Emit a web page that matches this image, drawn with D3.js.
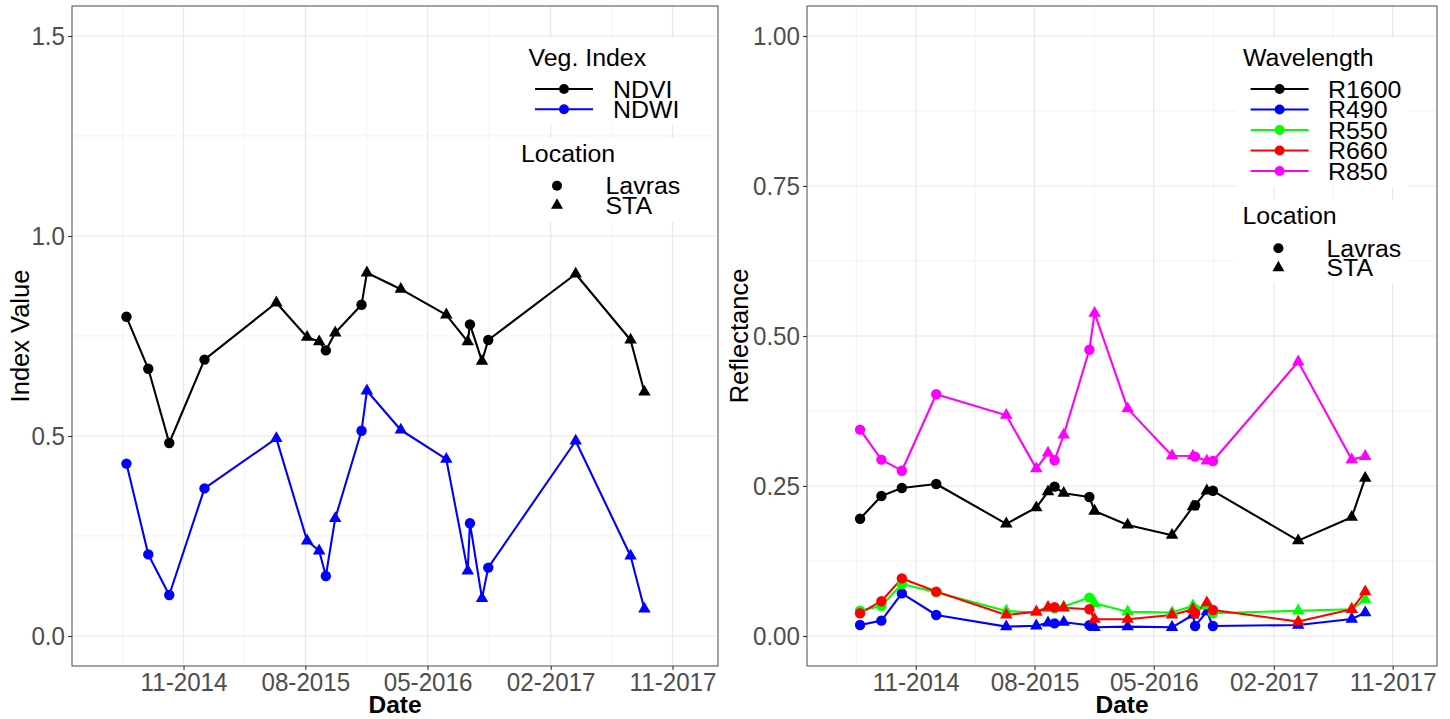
<!DOCTYPE html>
<html>
<head>
<meta charset="utf-8">
<script src="https://cdn.jsdelivr.net/npm/d3@7"></script>
<style>
  body { margin: 0; background: #fff; }
  svg { display: block; font-family: "Liberation Sans", Arial, Helvetica, sans-serif; }
</style>
</head>
<body>
<svg id="chart" width="1450" height="719"></svg>
<script>
// Sampling dates and the site of each sample
const dates = [
  "2014-06-26", "2014-08-14", "2014-09-30", "2014-12-18", "2015-05-28",
  "2015-08-05", "2015-09-01", "2015-09-16", "2015-10-07", "2015-12-05",
  "2015-12-17", "2016-03-02", "2016-06-12", "2016-07-30", "2016-08-04",
  "2016-08-31", "2016-09-14", "2017-03-29", "2017-07-30", "2017-08-30"
];
const sites = [
  "Lavras", "Lavras", "Lavras", "Lavras", "STA",
  "STA", "STA", "Lavras", "STA", "Lavras",
  "STA", "STA", "STA", "STA", "Lavras",
  "STA", "Lavras", "STA", "STA", "STA"
];

// Vegetation indices
const ndvi = [0.798, 0.668, 0.4825, 0.691, 0.833, 0.747, 0.736, 0.714, 0.758, 0.828,
              0.908, 0.867, 0.803, 0.736, 0.779, 0.687, 0.740, 0.905, 0.740, 0.610];
const ndwi = [0.431, 0.204, 0.1025, 0.369, 0.494, 0.238, 0.213, 0.150, 0.294, 0.513,
              0.613, 0.515, 0.442, 0.163, 0.282, 0.094, 0.171, 0.4875, 0.200, 0.0675];

// Band reflectances
const r1600 = [0.1955, 0.2333, 0.2467, 0.2533, 0.187, 0.214, 0.2405, 0.249, 0.238, 0.2317,
               0.2083, 0.185, 0.168, 0.2155, 0.218, 0.242, 0.242, 0.159, 0.198, 0.263];
const r490  = [0.0183, 0.0256, 0.071, 0.035, 0.0156, 0.017, 0.022, 0.021, 0.023, 0.018,
               0.0145, 0.0156, 0.0145, 0.035, 0.0167, 0.0405, 0.0167, 0.0183, 0.0283, 0.039];
const r550  = [0.042, 0.050, 0.0867, 0.0728, 0.0417, 0.039, 0.046, 0.046, 0.049, 0.064,
               0.0545, 0.0405, 0.039, 0.0505, 0.045, 0.050, 0.038, 0.042, 0.0445, 0.061];
const r660  = [0.038, 0.058, 0.096, 0.074, 0.035, 0.0405, 0.048, 0.048, 0.047, 0.0445,
               0.028, 0.028, 0.035, 0.0445, 0.038, 0.0555, 0.0433, 0.024, 0.0445, 0.074];
const r850  = [0.344, 0.294, 0.2755, 0.403, 0.368, 0.279, 0.305, 0.293, 0.335, 0.477,
               0.538, 0.379, 0.3005, 0.300, 0.299, 0.2917, 0.2917, 0.457, 0.294, 0.2995];

// Axis breaks
const dateBreaks = ["2014-02-01", "2014-11-01", "2015-08-01", "2016-05-01", "2017-02-01", "2017-11-01", "2018-08-01"];
const dateLimits = ["2014-02-24", "2018-02-11"];
const indexTicks = [0, 0.5, 1.0, 1.5];
const indexMinor = [0.25, 0.75, 1.25];
const reflTicks = [0, 0.25, 0.5, 0.75, 1.0];
const reflMinor = [0.125, 0.375, 0.625, 0.875];

const parse = d3.timeParse("%Y-%m-%d");
const fmtDate = d3.timeFormat("%m-%Y");
const svg = d3.select("#chart");

const TEXT_SX = 1.06;
const LEG_SIZE = 23.5;

function label(g, x, y, str, o = {}) {
  const t = g.append("text")
    .attr("transform", `translate(${x},${y}) scale(${o.sx || TEXT_SX},1)`)
    .attr("font-size", o.size || LEG_SIZE)
    .attr("fill", o.fill || "#000")
    .attr("text-anchor", o.anchor || "start")
    .text(str);
  if (o.weight) t.attr("font-weight", o.weight);
  return t;
}

function triPath(s) {
  const h = s * Math.sqrt(3) / 2;
  return `M0,${-2 * h / 3}L${s / 2},${h / 3}L${-s / 2},${h / 3}Z`;
}

function drawPanel(cfg) {
  const { x0, x1, y0, y1 } = cfg.box;
  const g = svg.append("g");

  const x = d3.scaleTime().domain(dateLimits.map(parse)).range([x0, x1]);
  const y = d3.scaleLinear().domain(cfg.yDomain).range([y1, y0]);

  const breaks = dateBreaks.map(parse);
  const majorX = breaks.filter(d => x(d) >= x0 && x(d) <= x1);
  const minorX = [];
  for (let i = 0; i < breaks.length - 1; i++) {
    const m = new Date((breaks[i].getTime() + breaks[i + 1].getTime()) / 2);
    if (x(m) >= x0 && x(m) <= x1) minorX.push(m);
  }

  // grid
  const grid = g.append("g");
  grid.selectAll(".hmin").data(cfg.yMinor).join("line")
    .attr("x1", x0).attr("x2", x1).attr("y1", d => y(d)).attr("y2", d => y(d))
    .attr("stroke", "#ececec").attr("stroke-width", 0.7);
  grid.selectAll(".vmin").data(minorX).join("line")
    .attr("y1", y0).attr("y2", y1).attr("x1", d => x(d)).attr("x2", d => x(d))
    .attr("stroke", "#ececec").attr("stroke-width", 0.7);
  grid.selectAll(".hmaj").data(cfg.yTicks).join("line")
    .attr("x1", x0).attr("x2", x1).attr("y1", d => y(d)).attr("y2", d => y(d))
    .attr("stroke", "#e8e8e8").attr("stroke-width", 1.2);
  grid.selectAll(".vmaj").data(majorX).join("line")
    .attr("y1", y0).attr("y2", y1).attr("x1", d => x(d)).attr("x2", d => x(d))
    .attr("stroke", "#e8e8e8").attr("stroke-width", 1.2);

  // series: lines first, then points
  const rows = cfg.series.map(s => ({
    color: s.color,
    pts: dates.map((d, i) => ({ date: parse(d), v: s.values[i], site: sites[i] }))
  }));
  const line = d3.line().x(d => x(d.date)).y(d => y(d.v));
  rows.forEach(r => {
    g.append("path").attr("d", line(r.pts)).attr("fill", "none")
      .attr("stroke", r.color).attr("stroke-width", 2.1).attr("stroke-linejoin", "round");
  });
  rows.forEach(r => {
    const pg = g.append("g").attr("fill", r.color);
    pg.selectAll("circle").data(r.pts.filter(p => p.site === "Lavras")).join("circle")
      .attr("cx", p => x(p.date)).attr("cy", p => y(p.v)).attr("r", 5.2);
    pg.selectAll("path").data(r.pts.filter(p => p.site === "STA")).join("path")
      .attr("d", triPath(12.5))
      .attr("transform", p => `translate(${x(p.date)},${y(p.v)})`);
  });

  // panel border
  g.append("rect").attr("x", x0).attr("y", y0).attr("width", x1 - x0).attr("height", y1 - y0)
    .attr("fill", "none").attr("stroke", "#5a5a5a").attr("stroke-width", 1.1);

  // axes
  const ax = g.append("g").attr("transform", `translate(${x0},0)`)
    .call(d3.axisLeft(y).tickValues(cfg.yTicks).tickFormat(cfg.yFormat).tickSize(4).tickPadding(3));
  const bx = g.append("g").attr("transform", `translate(0,${y1})`)
    .call(d3.axisBottom(x).tickValues(majorX).tickFormat(fmtDate).tickSize(4).tickPadding(3));
  [ax, bx].forEach(a => {
    a.select(".domain").remove();
    a.selectAll(".tick line").attr("stroke", "#333").attr("stroke-width", 1.1);
    a.selectAll(".tick text").attr("font-size", 26).attr("fill", "#4d4d4d")
      .attr("font-family", "Liberation Sans, Arial, sans-serif")
      .attr("transform", "scale(0.93,1)");
  });
  ax.selectAll(".tick text").attr("x", -7 / 0.93);

  // axis titles
  g.append("text").attr("transform", `translate(${cfg.yTitleX},${(y0 + y1) / 2}) rotate(-90)`)
    .attr("text-anchor", "middle").attr("font-size", 25.5).attr("fill", "#000").text(cfg.yTitle);
  label(g, (x0 + x1) / 2, 713, "Date", { anchor: "middle", weight: "bold", size: 24.5, sx: 1.0 });

  // legends
  const L = cfg.legend;
  const lg = g.append("g");
  lg.append("rect").attr("x", L.box1[0]).attr("y", L.box1[1]).attr("width", L.box1[2]).attr("height", L.box1[3]).attr("fill", "#fff");
  lg.append("rect").attr("x", L.box2[0]).attr("y", L.box2[1]).attr("width", L.box2[2]).attr("height", L.box2[3]).attr("fill", "#fff");
  label(lg, L.title1[0], L.title1[1], cfg.legendTitle);
  cfg.series.forEach((s, i) => {
    const ry = L.row0 + i * L.rowStep;
    lg.append("line").attr("x1", L.keyX - 29).attr("x2", L.keyX + 29).attr("y1", ry).attr("y2", ry)
      .attr("stroke", s.color).attr("stroke-width", 2.1);
    lg.append("circle").attr("cx", L.keyX).attr("cy", ry).attr("r", 5).attr("fill", s.color);
    label(lg, L.textX, ry + 8.5, s.name);
  });
  label(lg, L.title2[0], L.title2[1], "Location");
  const locNames = ["Lavras", "STA"];
  locNames.forEach((nm, i) => {
    const ry = L.loc0 + i * L.locStep;
    if (nm === "Lavras") lg.append("circle").attr("cx", L.locKeyX).attr("cy", ry).attr("r", 5).attr("fill", "#000");
    else lg.append("path").attr("d", triPath(12)).attr("transform", `translate(${L.locKeyX},${ry})`).attr("fill", "#000");
    label(lg, L.locTextX, ry + 8.5, nm);
  });
}

drawPanel({
  box: { x0: 72, x1: 718, y0: 6, y1: 666 },
  yDomain: [-0.075, 1.575],
  yTicks: indexTicks, yMinor: indexMinor,
  yFormat: d3.format(".1f"),
  yTitle: "Index Value", yTitleX: 29,
  legendTitle: "Veg. Index",
  series: [
    { name: "NDVI", color: "#000000", values: ndvi },
    { name: "NDWI", color: "#0000ff", values: ndwi }
  ],
  legend: {
    box1: [520, 38, 168, 87], box2: [513, 138, 176, 84],
    title1: [528.5, 65.5], row0: 89, rowStep: 20.3, keyX: 564, textX: 613,
    title2: [521, 162], loc0: 185.7, locStep: 19.5, locKeyX: 557, locTextX: 605.5
  }
});

drawPanel({
  box: { x0: 807, x1: 1437, y0: 6, y1: 666 },
  yDomain: [-0.05, 1.05],
  yTicks: reflTicks, yMinor: reflMinor,
  yFormat: d3.format(".2f"),
  yTitle: "Reflectance", yTitleX: 748,
  legendTitle: "Wavelength",
  series: [
    { name: "R1600", color: "#000000", values: r1600 },
    { name: "R490", color: "#0000ff", values: r490 },
    { name: "R550", color: "#00ff00", values: r550 },
    { name: "R660", color: "#ff0000", values: r660 },
    { name: "R850", color: "#ff00ff", values: r850 }
  ],
  legend: {
    box1: [1236, 38, 172, 149], box2: [1236, 200, 172, 83],
    title1: [1243, 65.5], row0: 89, rowStep: 20.5, keyX: 1279.6, textX: 1328,
    title2: [1242.5, 224], loc0: 248.3, locStep: 19.4, locKeyX: 1278.4, locTextX: 1326.5
  }
});
</script>
</body>
</html>
